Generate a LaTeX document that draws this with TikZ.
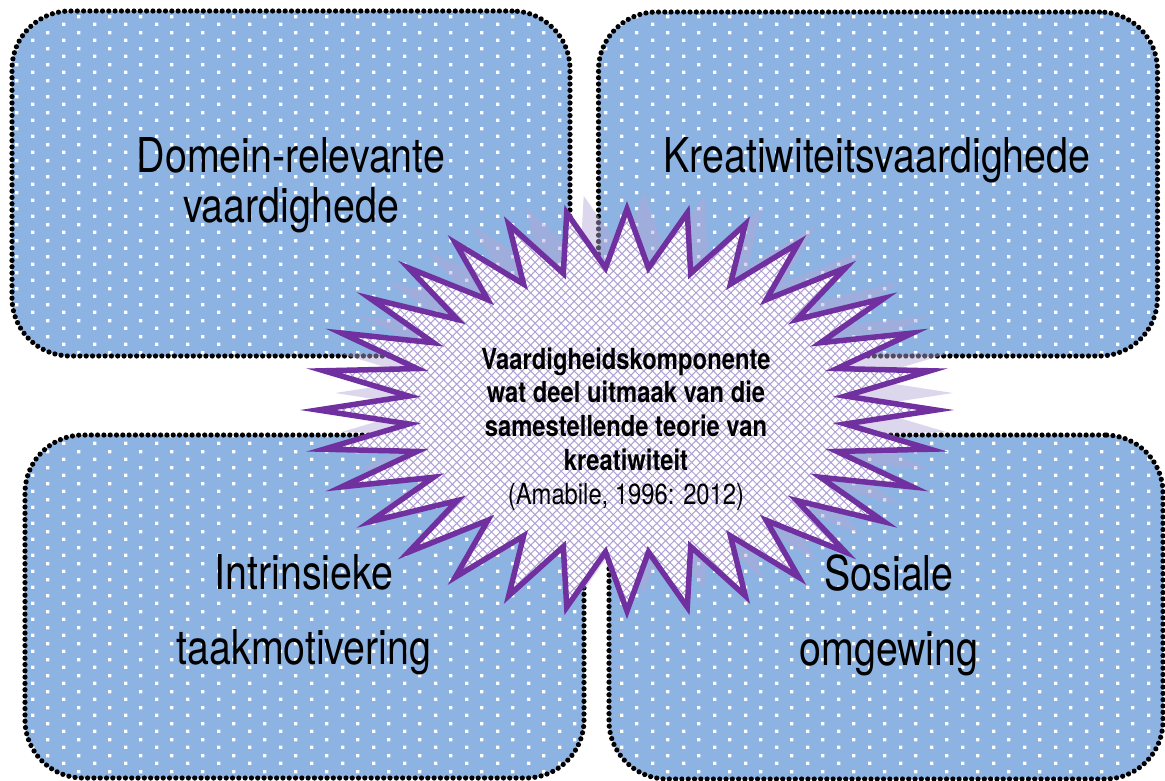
\documentclass[tikz,border=0pt]{standalone}
\usepackage{fontspec}
\setmainfont{TeX Gyre Heros}[FakeStretch=0.82]
\usepackage{tikz}
\usetikzlibrary{patterns}
\definecolor{boxblue}{HTML}{8DB3E2}
\definecolor{starpurple}{HTML}{7030A0}
\definecolor{gridpurple}{HTML}{B1A2D6}
\definecolor{shadowlilac}{HTML}{B4A7D6}

\pgfdeclarepatternformonly{whitedots}{\pgfpointorigin}{\pgfpoint{31pt}{15.5pt}}{\pgfpoint{31pt}{15.5pt}}{
  \pgfpathrectangle{\pgfpoint{0pt}{0pt}}{\pgfpoint{3.4pt}{3.4pt}}
  \pgfpathrectangle{\pgfpoint{15.5pt}{7.75pt}}{\pgfpoint{3.4pt}{3.4pt}}
  \pgfusepath{fill}
}
\pgfdeclarepatternformonly{diamondgrid}{\pgfpoint{-1pt}{-1pt}}{\pgfpoint{9.7pt}{9.7pt}}{\pgfpoint{8.7pt}{8.7pt}}{
  \pgfsetlinewidth{1pt}
  \pgfpathmoveto{\pgfpoint{-0.5pt}{-0.5pt}}\pgfpathlineto{\pgfpoint{9.2pt}{9.2pt}}
  \pgfpathmoveto{\pgfpoint{-0.5pt}{9.2pt}}\pgfpathlineto{\pgfpoint{9.2pt}{-0.5pt}}
  \pgfusepath{stroke}
}

\begin{document}
\begin{tikzpicture}[x=1pt, y=-1pt,
box/.style={
		draw=black,
		line width=5.2pt,
		dash pattern=on 0pt off 6.3pt,
		line cap=round,
		rounded corners=58pt,
		preaction={fill=boxblue},
		pattern=whitedots,
		pattern color=white,
		inner sep=0pt,
		},
bigtext/.style={
		font=\fontsize{48}{50}\selectfont,
		align=center,
		inner sep=0pt,
		},
midtext/.style={
		font=\fontsize{29}{33.8}\selectfont\bfseries,
		align=center,
		inner sep=0pt,
		},
starshadow/.style={
		fill=shadowlilac,
		opacity=0.45,
		},
starline/.style={
		draw=starpurple,
		line width=5.5pt,
		preaction={fill=white},
		pattern=diamondgrid,
		pattern color=gridpurple,
		},
]
\useasboundingbox (0,0) rectangle (1165,780);

% the four components
\node[box, minimum width=558pt, minimum height=345pt] (domein) at (291,183.5) {};
\node[box, minimum width=559pt, minimum height=344pt] (kreatief) at (878,184) {};
\node[box, minimum width=559pt, minimum height=343pt] (intrinsiek) at (304.5,606.5) {};
\node[box, minimum width=554pt, minimum height=344pt] (sosiaal) at (886,607) {};

% starburst
\def \n {32}
\def \cx {627}
\def \cy {410}
\def \rx {309}
\def \ry {201}
\def \dent {0.71} % inner radius of the spikes
\def \shift {17}

\fill[starshadow] ({\cx+\shift+\rx},{\cy-\shift})
  \foreach \k in {1,...,63}
  {
    -- ({\cx+\shift+\rx*(1-(1-\dent)*mod(\k,2))*cos(\k*180/\n)},
        {\cy-\shift+\ry*(1-(1-\dent)*mod(\k,2))*sin(\k*180/\n)})
  } -- cycle;

\draw[starline] ({\cx+\rx},{\cy})
  \foreach \k in {1,...,63}
  {
    -- ({\cx+\rx*(1-(1-\dent)*mod(\k,2))*cos(\k*180/\n)},
        {\cy+\ry*(1-(1-\dent)*mod(\k,2))*sin(\k*180/\n)})
  } -- cycle;

% labels
\node[bigtext] (domeintxt) at (291,185) {Domein-relevante\\vaardighede};
\node[bigtext] (kreatieftxt) at (877,160) {Kreatiwiteitsvaardighede};
\node[bigtext, font=\fontsize{48}{75}\selectfont] (intrinsiektxt) at (304,615) {Intrinsieke\\taakmotivering};
\node[bigtext, font=\fontsize{48}{75}\selectfont] (sosiaaltxt) at (889,615) {Sosiale\\omgewing};
\node[midtext] (kern) at (626,429) {Vaardigheidskomponente\\wat deel uitmaak van die\\samestellende teorie van\\kreatiwiteit\\{\mdseries (Amabile, 1996: 2012)}};
\end{tikzpicture}
\end{document}
